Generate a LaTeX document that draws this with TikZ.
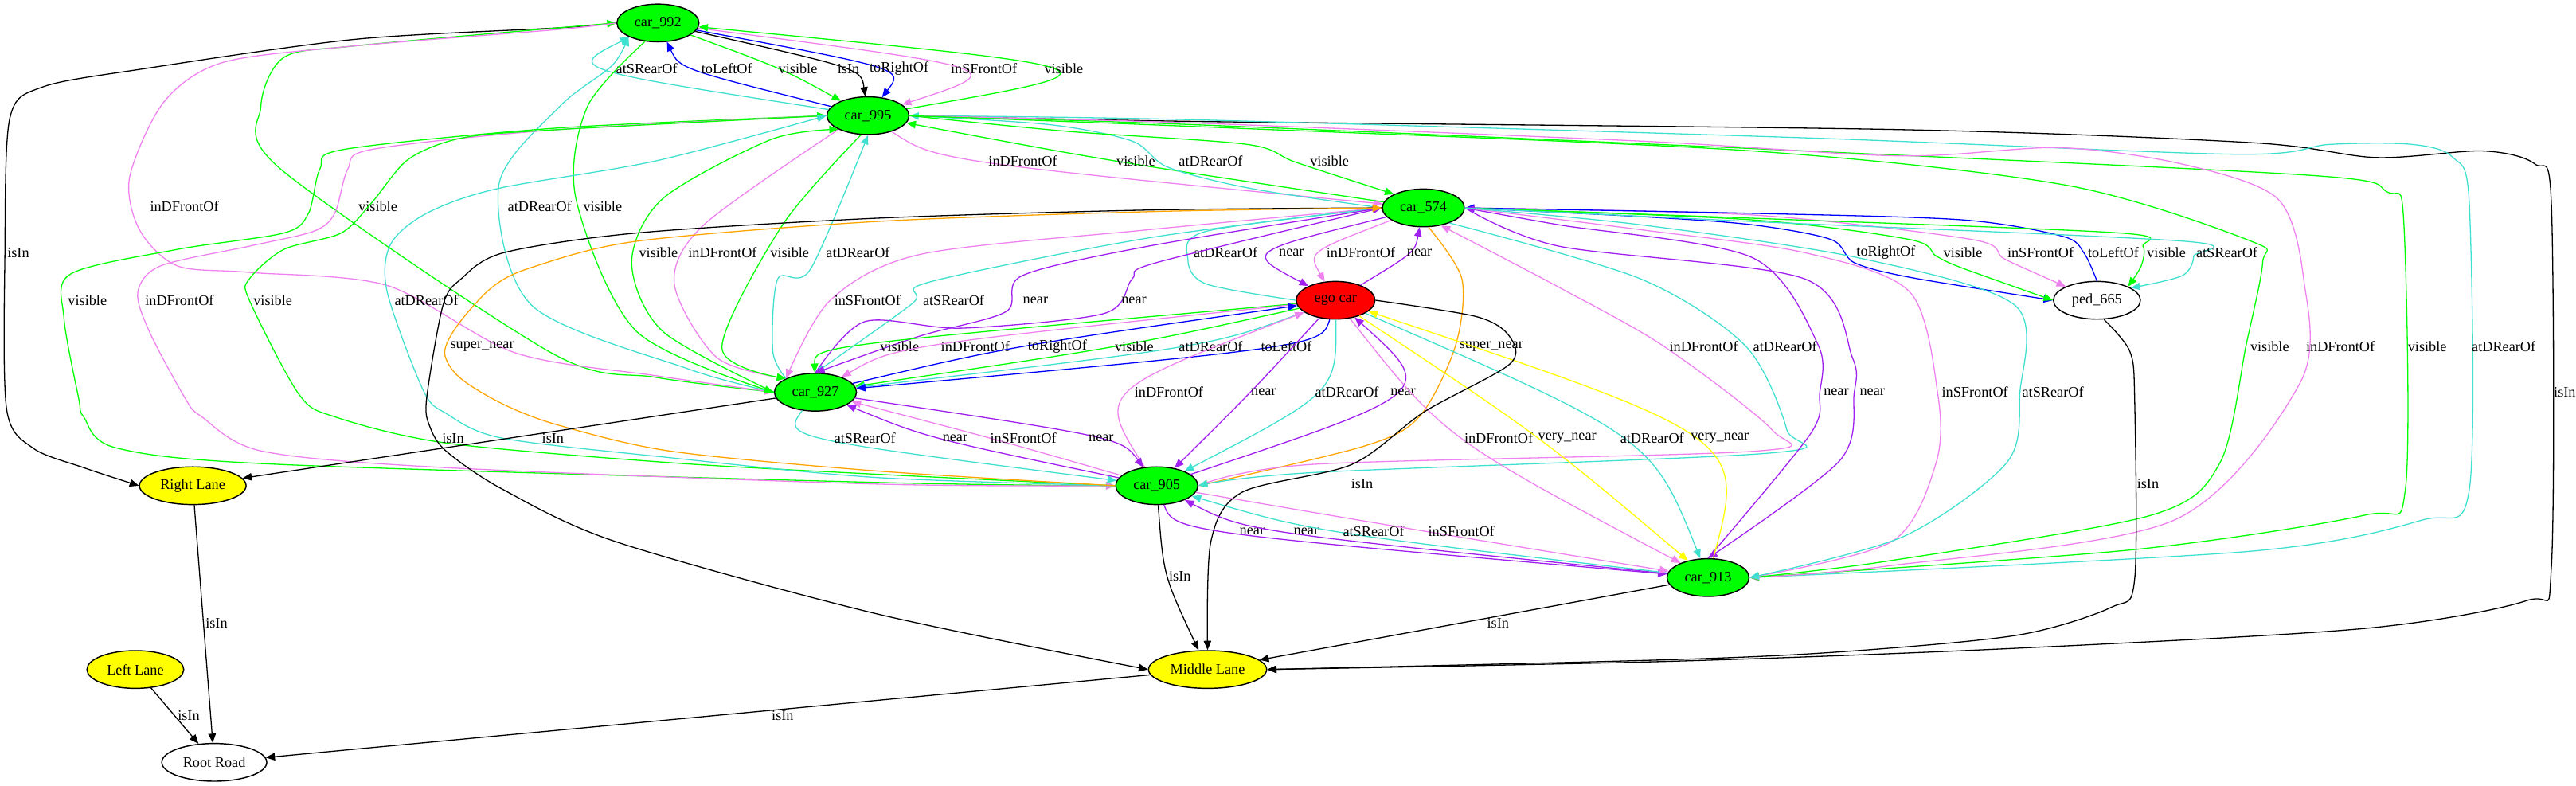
\documentclass[tikz,border=0pt]{standalone}
\usepackage{fontspec}
\setmainfont{Liberation Serif}
\usetikzlibrary{shapes.geometric,arrows.meta,calc}
\definecolor{grn}{HTML}{00FF00}
\definecolor{trq}{HTML}{40E0D0}
\definecolor{vlt}{HTML}{EE82EE}
\definecolor{prp}{HTML}{A020F0}
\definecolor{blu}{HTML}{0000FF}
\definecolor{orn}{HTML}{FFA500}
\definecolor{ylw}{HTML}{FFFF00}
\definecolor{rd}{HTML}{FF0000}
\newcounter{labno}
% edge bent through one spot, label right of that spot
\newcommand\relto[5]{\stepcounter{labno}%
  \draw[#1] (#2) .. controls ($1.3333*(#4)-0.1667*(#2)-0.1667*(#3)$) .. (#3);
  \node[lbl] (l\thelabno) at (#4) {#5};}
% edge along a list of spots
\newcommand\relvia[4]{\stepcounter{labno}%
  \draw[#1] plot[smooth] coordinates {#2};
  \node[lbl] (l\thelabno) at (#3) {#4};}
\begin{document}
\begin{tikzpicture}[x=0.05cm, y=-0.05cm, font=\fontsize{12.6}{15}\selectfont,
    car/.style={ellipse, draw, line width=1pt, fill=grn, minimum width=2.5cm, minimum height=1.15cm, inner sep=0pt},
    lane/.style={car, fill=ylw},
    lbl/.style={anchor=west, inner sep=0.5pt},
    rel/.style={line width=0.9pt, -{Triangle[length=8pt,width=6.5pt]}},
    gr/.style={rel, draw=grn}, tq/.style={rel, draw=trq}, vi/.style={rel, draw=vlt},
    pu/.style={rel, draw=prp}, bl/.style={rel, draw=blu}, og/.style={rel, draw=orn},
    ye/.style={rel, draw=ylw}, bk/.style={rel, draw=black}]
  \useasboundingbox (0,0) rectangle (1570,479);

  \node[car] (c992) at (401,14) {car\_992};
  \node[car] (c995) at (529,70.5) {car\_995};
  \node[car] (c574) at (867.5,126.7) {car\_574};
  \node[car, fill=rd, minimum width=2.4cm] (ego) at (814,183) {ego car};
  \node[car, fill=white, minimum width=2.65cm] (ped) at (1278,183) {ped\_665};
  \node[car] (c927) at (497,239) {car\_927};
  \node[car] (c905) at (705,296) {car\_905};
  \node[car] (c913) at (1041,352) {car\_913};
  \node[lane, minimum width=3.25cm] (rl) at (117.5,296) {Right Lane};
  \node[lane, minimum width=2.95cm] (ll) at (82.5,408) {Left Lane};
  \node[lane, minimum width=3.6cm] (ml) at (736,408) {Middle Lane};
  \node[lane, fill=white, minimum width=3.2cm] (rr) at (130.6,464.6) {Root Road};

  % car_992 and car_995
  \relto{tq}{c995}{c992}{375,42}{atSRearOf}
  \relto{bl}{c995}{c992}{427,42}{toLeftOf}
  \relto{gr}{c992}{c995}{474,42}{visible}
  \relto{bk}{c992}{c995}{510,42}{isIn}
  \relto{bl}{c992}{c995}{529.5,42}{toRightOf}
  \relto{vi}{c992}{c995}{579,42}{inSFrontOf}
  \relto{gr}{c995}{c992}{636,42}{visible}

  % car_992, far left
  \relvia{bk}{(c992.west) (340,17) (216,24) (87,42) (26,53) (6,72) (3,154) (4,249) (20,273) (51,285) (rl.west)}{4,154}{isIn}
  \relvia{gr}{(c927.west) (400,230) (336,215) (171,103) (159,65) (173,35) (216,28) (340,17) (c992.west)}{218,126}{visible}
  \relvia{vi}{(c992.west) (340,18) (216,28) (136,38) (100,62) (79,108) (85,140) (108,162) (152,166) (236,174) (314,215) (400,229) (c927.west)}{91,126}{inDFrontOf}
  \relvia{tq}{(c927.west) (420,225) (324,186) (304,113) (341,65) (373,40) (c992.south west)}{309,126}{atDRearOf}
  \relvia{gr}{(c992.235) (358,65) (351,121) (388,202) (c927.west)}{355,126}{visible}

  % car_995 and car_574
  \relto{vi}{c995}{c574}{602,98}{inDFrontOf}
  \relto{gr}{c574}{c995}{680,98}{visible}
  \relvia{tq}{(c574.west) (763,115) (712,102) (690,86) (640,76) (c995.east)}{718,98}{atDRearOf}
  \relvia{gr}{(c995.east) (650,80) (760,88) (790,99) (c574.north west)}{798,98}{visible}

  % car_995, far right
  \relvia{bk}{(c995.east) (728,74) (1158,79) (1373,87) (1448,96) (1513,92) (1545,100) (1555,125) (1555,345) (1540,366) (1441,383) (1230,395) (1019,403) (ml.east)}{1556,239}{isIn}
  \relvia{tq}{(c995.east) (728,73) (1100,84) (1362,94) (1420,88) (1470,88) (1495,96) (1505,125) (1505,298) (1476,317) (1371,336) (c913.east)}{1506,211}{atDRearOf}
  \relvia{gr}{(c995.east) (728,76) (1100,92) (1410,107) (1455,117) (1465,135) (1466,298) (1441,314) (1300,335) (c913.east)}{1467,211}{visible}
  \relvia{vi}{(c995.east) (728,75) (1000,86) (1158,95) (1255,90) (1330,100) (1388,121) (1404,170) (1402,233) (1325,317) (1150,345) (c913.east)}{1405,211}{inDFrontOf}
  \relvia{gr}{(c995.east) (750,78) (1068,92) (1260,113) (1372,147) (1379,160) (1369,210) (1353,282) (1311,314) (1150,342) (c913.east)}{1371,211}{visible}

  % car_995 and car_905
  \relvia{gr}{(c995.west) (340,78) (210,91) (195,103) (188,130) (173,142) (108,152) (43,167) (39,194) (48,243) (51,254) (71,273) (170,283) (534,294) (c905.west)}{41,183}{visible}
  \relvia{vi}{(c995.west) (340,79) (227,91) (212,103) (204,130) (191,141) (152,150) (98,162) (84,178) (91,202) (113,243) (123,254) (160,275) (272,285) (534,295) (c905.west)}{88,183}{inDFrontOf}
  \relvia{gr}{(c905.west) (534,289) (409,282) (272,270) (204,254) (182,240) (152,183) (152,170) (173,152) (208,142) (227,123) (249,97) (282,84) (340,79) (c995.west)}{154,183}{visible}
  \relvia{tq}{(c905.west) (534,291) (409,279) (306,267) (272,252) (258,238) (236,178) (238,149) (260,130) (303,115) (400,98) (c995.west)}{240,183}{atDRearOf}

  % car_995 and car_927
  \relvia{gr}{(c927.west) (404,202) (385,160) (404,121) (470,85) (c995.south west)}{389,154}{visible}
  \relvia{vi}{(c995.south west) (429,137) (411,173) (437,218) (c927.north west)}{419,154}{inDFrontOf}
  \relvia{gr}{(c995.250) (477,137) (440,212) (c927.north west)}{469,154}{visible}
  \relvia{tq}{(c927.north west) (471,214) (474,170) (494,164) (c995.south)}{503,154}{atDRearOf}

  % car_574 and ego car
  \relvia{tq}{(ego.west) (735,173) (724,158) (735,141) (c574.west)}{727,154}{atDRearOf}
  \relto{pu}{c574}{ego}{779,154}{near}
  \relto{vi}{c574}{ego}{808,154}{inDFrontOf}
  \relto{pu}{ego}{c574}{857,154}{near}

  % car_574 and ped_665
  \relvia{bl}{(c574.east) (1000,132) (1068,137) (1116,146) (1130,160) (1164,169) (ped.west)}{1131,154}{toRightOf}
  \relvia{gr}{(c574.east) (1068,134) (1164,146) (1180,156) (1195,163) (ped.west)}{1184,154}{visible}
  \relvia{vi}{(c574.east) (1068,131) (1202,146) (1222,158) (ped.north west)}{1223,154}{inSFrontOf}
  \relvia{bl}{(ped.north) (1270,154) (1257,144) (1196,134) (1068,130) (c574.east)}{1272,154}{toLeftOf}
  \relvia{gr}{(c574.east) (1068,133) (1292,142) (1306,150) (1305,162) (ped.north east)}{1308,154}{visible}
  \relvia{tq}{(c574.east) (1068,135) (1331,147) (1337,156) (1330,168) (ped.20)}{1338,154}{atSRearOf}

  % car_574 and car_927
  \relvia{vi}{(c574.west) (700,140) (561,155) (506,183) (c927.north west)}{508,183}{inSFrontOf}
  \relvia{tq}{(c574.west) (700,145) (566,172) (556,185) (c927.north)}{562,183}{atSRearOf}
  \relvia{pu}{(c574.west) (700,150) (623,168) (613,190) (560,205) (c927.north)}{623,183}{near}
  \relvia{pu}{(c927.north) (527,196) (586,200) (673,191) (690,170) (705,160) (c574.west)}{683,183}{near}

  % car_574, long ones
  \relvia{bk}{(c574.west) (700,128) (534,133) (388,142) (307,154) (281,170) (270,186) (260,243) (262,260) (272,275) (306,298) (375,330) (534,374) (ml.west)}{269,267}{isIn}
  \relvia{og}{(c905.west) (534,287) (409,275) (340,259) (306,246) (280,230) (271,215) (279,198) (300,175) (324,163) (388,147) (534,135) (700,129) (c574.west)}{274,211}{super\_near}
  \relvia{og}{(c574.-75) (891,170) (887,211) (865,254) (831,272) (c905.east)}{889,211}{super\_near}
  \relvia{vi}{(c905.east) (800,283) (1069,275) (1080,262) (1014,211) (950,175) (c574.-45)}{1017,211}{inDFrontOf}
  \relvia{tq}{(c574.-30) (1000,170) (1064,211) (1089,262) (1080,276) (800,288) (c905.east)}{1068,211}{atDRearOf}
  \relvia{pu}{(c913.north) (1103,265) (1109,240) (1108,210) (1068,157) (950,137) (c574.east)}{1111,239}{near}
  \relvia{pu}{(c574.east) (950,150) (1100,170) (1129,218) (1130,240) (1121,281) (c913.north)}{1133,239}{near}
  \relvia{vi}{(c574.east) (1000,140) (1100,154) (1164,178) (1181,240) (1180,282) (1153,330) (c913.east)}{1183,239}{inSFrontOf}
  \relvia{tq}{(c574.east) (1000,137) (1132,157) (1228,186) (1231,240) (1223,282) (1160,327) (c913.east)}{1232,239}{atSRearOf}

  % ego car and car_927
  \relto{gr}{ego}{c927}{536,211}{visible}
  \relto{vi}{ego}{c927}{573,211}{inDFrontOf}
  \relto{bl}{c927}{ego}{626,211}{toRightOf}
  \relto{gr}{ego}{c927}{679,211}{visible}
  \relto{tq}{ego}{c927}{718,211}{atDRearOf}
  \relto{bl}{ego}{c927}{768,211}{toLeftOf}

  % ego car and car_905
  \relto{vi}{c905}{ego}{691,239}{inDFrontOf}
  \relto{pu}{ego}{c905}{762,239}{near}
  \relto{tq}{ego}{c905}{801,239}{atDRearOf}
  \relto{pu}{c905}{ego}{847,239}{near}

  % ego car and car_913
  \relto{vi}{ego}{c913}{892,267}{inDFrontOf}
  \relto{ye}{ego}{c913}{937,267}{very\_near}
  \relto{tq}{ego}{c913}{987,267}{atDRearOf}
  \relto{ye}{c913}{ego}{1030,267}{very\_near}
  \relvia{bk}{(ego.east) (900,193) (920,205) (920,222) (868,251) (824,283) (757,300) (738,330) (ml.north)}{823,295}{isIn}

  % car_927 and car_905
  \relto{tq}{c927}{c905}{508,267}{atSRearOf}
  \relto{pu}{c905}{c927}{574,267}{near}
  \relto{vi}{c905}{c927}{603,267}{inSFrontOf}
  \relto{pu}{c927}{c905}{663,267}{near}

  % car_905 and car_913
  \relto{pu}{c905}{c913}{755,324}{near}
  \relto{pu}{c913}{c905}{788,324}{near}
  \relto{tq}{c913}{c905}{818,324}{atSRearOf}
  \relto{vi}{c905}{c913}{870,324}{inSFrontOf}

  % lanes and road
  \relto{bk}{c905}{ml}{712,351}{isIn}
  \relvia{bk}{(ped.-70) (1298,214) (1301,243) (1301,353) (1287,370) (1230,387) (1125,397) (1019,402) (ml.east)}{1302,295}{isIn}
  \foreach \a/\b/\x/\y in {c927/rl/337/267, rl/rr/132/380, ll/rr/115/436, ml/rr/477/436, c913/ml/913/380} {
    \draw[bk] (\a) -- (\b);
    \node[lbl, anchor=center] (in-\a) at (\x,\y) {isIn};
  }
\end{tikzpicture}
\end{document}
